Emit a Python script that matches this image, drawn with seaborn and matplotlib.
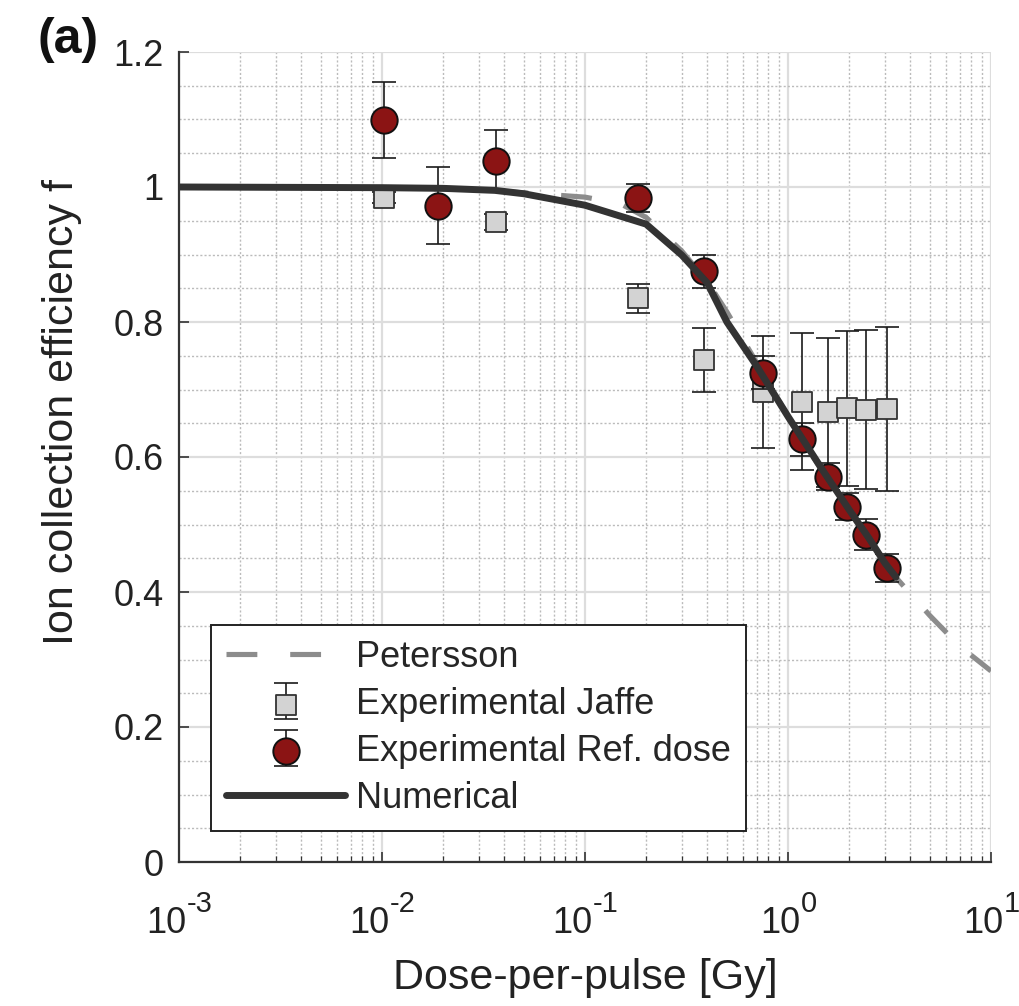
import numpy as np
import pandas as pd
import seaborn as sns
import matplotlib
matplotlib.use("Agg")
import matplotlib.pyplot as plt
from matplotlib.ticker import LogLocator, MultipleLocator, NullFormatter
from matplotlib.legend_handler import HandlerTuple
from matplotlib.lines import Line2D

# ---- data ----
petersson_dose = [0.001, 0.01, 0.03, 0.1, 0.15, 0.2, 0.3, 0.4, 0.5, 0.7, 1.0, 1.5, 2.0, 3.0, 5.0, 7.0, 10.0]
petersson_f    = [1.000, 0.999, 0.996, 0.985, 0.975, 0.955, 0.905, 0.860, 0.815, 0.740, 0.660, 0.575, 0.520, 0.440, 0.365, 0.320, 0.283]

numerical_dose = [0.001, 0.01, 0.02, 0.036, 0.05, 0.1, 0.2, 0.3, 0.4, 0.5, 0.7, 1.0, 1.5, 2.0, 2.5, 3.0, 3.4]
numerical_f    = [1.000, 0.999, 0.998, 0.995, 0.990, 0.973, 0.945, 0.899, 0.858, 0.800, 0.735, 0.660, 0.578, 0.522, 0.480, 0.443, 0.422]

jaffe_dose = [0.0102, 0.0363, 0.182, 0.387, 0.755, 1.167, 1.58, 1.95, 2.42, 3.06]
jaffe_f    = [0.984, 0.948, 0.835, 0.744, 0.697, 0.682, 0.666, 0.672, 0.670, 0.671]
jaffe_err  = [0.008, 0.012, 0.021, 0.047, 0.083, 0.101, 0.111, 0.115, 0.118, 0.121]

ref_dose = [0.0102, 0.0188, 0.0363, 0.182, 0.387, 0.755, 1.167, 1.58, 1.95, 2.42, 3.06]
ref_f    = [1.099, 0.972, 1.038, 0.984, 0.875, 0.725, 0.626, 0.571, 0.526, 0.485, 0.436]
ref_err  = [0.056, 0.057, 0.046, 0.021, 0.025, 0.024, 0.024, 0.020, 0.020, 0.023, 0.021]

x_ticks = [1e-3, 1e-2, 1e-1, 1e0, 1e1]
x_tick_base = "10"
x_tick_exponents = ["-3", "-2", "-1", "0", "1"]
y_ticks = [0, 0.2, 0.4, 0.6, 0.8, 1.0, 1.2]
y_ticklabels = ["0", "0.2", "0.4", "0.6", "0.8", "1", "1.2"]

legend_labels = ["Petersson", "Experimental Jaffe", "Experimental Ref. dose", "Numerical"]

sns.set_theme(style="white")
plt.rcParams["font.family"] = ["Liberation Sans", "DejaVu Sans"]

fig = plt.figure(figsize=(10.2, 10.06), dpi=100)
ax = fig.add_axes([179/1020, 1-862/1006, (991-179)/1020, (862-52)/1006])

pet = pd.DataFrame({"dose": petersson_dose, "f": petersson_f})
num = pd.DataFrame({"dose": numerical_dose, "f": numerical_f})
jaf = pd.DataFrame({"dose": jaffe_dose, "f": jaffe_f, "err": jaffe_err})
ref = pd.DataFrame({"dose": ref_dose, "f": ref_f, "err": ref_err})

grey_line = "#8c8c8c"
dark_line = "#333333"
red = "#8b1414"
sq_fill = "#d3d3d3"
txt = "#222222"

pet_dash = [6.0, 6.4]
sns.lineplot(data=pet, x="dose", y="f", ax=ax, color=grey_line, lw=3.7,
             zorder=3, legend=False, sort=False)
ax.lines[-1].set_dashes(pet_dash)
ax.lines[-1].set_dash_capstyle("butt")

eb_kw = dict(fmt="none", ecolor="#1a1a1a", elinewidth=1.2, capsize=8.5, capthick=1.2)
eb_j = ax.errorbar(jaf["dose"], jaf["f"], yerr=jaf["err"], zorder=4, **eb_kw)
sns.scatterplot(data=jaf, x="dose", y="f", ax=ax, marker="s", s=210, color=sq_fill,
                edgecolor="#333333", linewidth=1.3, zorder=5, legend=False)
sq_coll = ax.collections[-1]

eb_r = ax.errorbar(ref["dose"], ref["f"], yerr=ref["err"], zorder=6, **eb_kw)
sns.scatterplot(data=ref, x="dose", y="f", ax=ax, marker="o", s=360, color=red,
                edgecolor="#111111", linewidth=1.4, zorder=7, legend=False)
circ_coll = ax.collections[-1]

sns.lineplot(data=num, x="dose", y="f", ax=ax, color=dark_line, lw=5.0,
             zorder=8, legend=False, sort=False)

ax.set_xscale("log")
ax.set_xlim(1e-3, 1e1)
ax.set_ylim(0, 1.2)
ax.set_xticks(x_ticks)
ax.set_xticklabels([""] * len(x_ticks))
ax.set_yticks(y_ticks)
ax.set_yticklabels(y_ticklabels)
ax.xaxis.set_minor_locator(LogLocator(base=10, subs=np.arange(2, 10), numticks=50))
ax.xaxis.set_minor_formatter(NullFormatter())
ax.yaxis.set_minor_locator(MultipleLocator(0.05))

ax.grid(which="major", color="#dddddd", lw=1.6, ls="-", zorder=0)
ax.grid(which="minor", color="#bbbbbb", lw=1.0, ls=(0, (1.5, 1.5)), zorder=0)
ax.set_axisbelow(True)

for s in ["top", "right"]:
    ax.spines[s].set_visible(False)
for s in ["left", "bottom"]:
    ax.spines[s].set_color("#333333")
    ax.spines[s].set_linewidth(1.6)

ax.tick_params(axis="both", which="major", direction="in", length=7, width=1.2,
               colors="#333333", labelcolor=txt, labelsize=26, pad=11,
               bottom=True, left=True)
ax.tick_params(axis="x", which="minor", direction="in", length=4, width=0.9,
               colors="#333333", bottom=True)
ax.tick_params(axis="y", which="minor", left=False)

# x tick labels: "10" with a large exponent
for xt, ex in zip(x_ticks, x_tick_exponents):
    split = 7 if ex.startswith("-") else 12
    ax.annotate(x_tick_base, xy=(xt, 0), xycoords=("data", "axes fraction"),
                xytext=(split, -71), textcoords="offset pixels",
                ha="right", va="baseline", fontsize=26, color=txt, annotation_clip=False)
    ax.annotate(ex, xy=(xt, 0), xycoords=("data", "axes fraction"),
                xytext=(split + 1, -50), textcoords="offset pixels",
                ha="left", va="baseline", fontsize=21, color=txt, annotation_clip=False)

ax.set_xlabel("Dose-per-pulse [Gy]", fontsize=31, color=txt)
ax.xaxis.set_label_coords(0.5, -(958 - 862) / 810)
ax.set_ylabel("Ion collection efficiency f", fontsize=31, color=txt)
ax.yaxis.set_label_coords((82 - 179) / 812, 0.555)

fig.text(68/1020, 1-40/1006, "(a)", fontsize=36, fontweight="bold", color="#111111",
         va="center", ha="center")

# legend
h_pet = Line2D([], [], color=grey_line, lw=3.7, dashes=pet_dash, dash_capstyle="butt")
h_num = Line2D([], [], color=dark_line, lw=5.0)
leg = ax.legend([h_pet, (eb_j, sq_coll), (eb_r, circ_coll), h_num], legend_labels,
                handler_map={tuple: HandlerTuple(ndivide=1)},
                loc="lower left", bbox_to_anchor=((211-179)/812, (862-831)/810),
                fontsize=26, frameon=True, fancybox=False, edgecolor="#222222",
                framealpha=1, handlelength=3.3, handletextpad=0.3, labelspacing=0.33,
                borderpad=0.42, borderaxespad=0)
leg.get_frame().set_linewidth(1.4)

fig.savefig("out.png", dpi=100)
